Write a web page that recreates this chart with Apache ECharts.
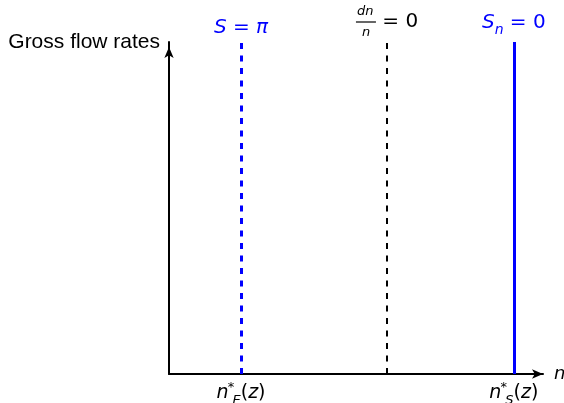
<!DOCTYPE html>
<html>
<head>
<meta charset="utf-8">
<script src="https://cdn.jsdelivr.net/npm/echarts@6/dist/echarts.min.js"></script>
<style>
  html, body { margin: 0; padding: 0; background: #fff; }
  #chart { width: 564px; height: 403px; }
</style>
</head>
<body>
<div id="chart"></div>
<script>
// Positions of the three vertical loci along the n axis (axis runs 0..100)
var lineNames = ['S = π', 'dn/n = 0', 'S_n = 0'];
var linePositions = [19.25, 58.3, 92.2];
var lineColors = ['#0000ff', '#000000', '#0000ff'];
var lineDashes = [[6, 6.5], [6, 6.5], 'solid'];
var lineWidths = [3, 2, 3];

// Tick labels under the n axis
var tickValues = [19.25, 92.2];
var tickSubscripts = ['E', 'S'];

var yAxisTitle = 'Gross flow rates';
var xAxisTitle = 'n';

var mathFont = 'DejaVu Sans';

// Rich-text renderings of the labels above each line
var topLabels = [
  '{it|S}{op| = }{it|π}',
  '{num|dn}\n{bar| }{eq| = 0}\n{den|n}',
  '{it|S}{sub|n}{op| = 0}'
];
var topLabelDistance = [4, 3, 9];

function richBase(color) {
  return {
    it: { fontFamily: mathFont, fontStyle: 'italic', fontSize: 20, color: color },
    op: { fontFamily: mathFont, fontSize: 20, color: color },
    sub: { fontFamily: mathFont, fontStyle: 'italic', fontSize: 14, color: color, verticalAlign: 'bottom', padding: [0, 0, -4, 0] },
    num: { fontFamily: mathFont, fontStyle: 'italic', fontSize: 13, color: color, align: 'left', padding: [0, 0, -2, 1], lineHeight: 12 },
    den: { fontFamily: mathFont, fontStyle: 'italic', fontSize: 13, color: color, align: 'left', padding: [0, 0, 0, 6], lineHeight: 12 },
    bar: { width: 20, height: 1.2, backgroundColor: color, align: 'left' },
    eq: { fontFamily: mathFont, fontSize: 20, color: color, align: 'left', lineHeight: 10 }
  };
}

var markData = linePositions.map(function (x, i) {
  return [
    {
      name: lineNames[i],
      coord: [x, 0],
      lineStyle: { color: lineColors[i], width: lineWidths[i], type: lineDashes[i] },
      label: {
        show: true,
        position: 'end',
        distance: topLabelDistance[i],
        formatter: topLabels[i],
        rich: richBase(lineColors[i])
      }
    },
    { coord: [x, 100] }
  ];
});

var chart = echarts.init(document.getElementById('chart'), null, { renderer: 'canvas' });

chart.setOption({
  animation: false,
  backgroundColor: '#ffffff',
  grid: { left: 169, right: 21, top: 42, bottom: 29, containLabel: false, outerBoundsMode: 'none' },
  xAxis: {
    type: 'value',
    min: 0,
    max: 100,
    name: xAxisTitle,
    nameLocation: 'end',
    nameGap: 11,
    nameTextStyle: { fontFamily: mathFont, fontStyle: 'italic', fontSize: 18, color: '#000', verticalAlign: 'middle', padding: [0, 0, 12, 0] },
    axisLine: {
      show: true,
      symbol: ['none', 'arrow'],
      symbolSize: [7, 11],
      lineStyle: { color: '#000', width: 2 }
    },
    axisTick: { show: false },
    splitLine: { show: false },
    axisLabel: {
      show: true,
      customValues: tickValues,
      margin: 10,
      formatter: function (v) {
        var idx = tickValues.indexOf(v);
        if (idx < 0) return '';
        return '{n|n}{sup|*}{sub|' + tickSubscripts[idx] + '}{u|(}{n|z}{u|)}';
      },
      rich: {
        n: { fontFamily: mathFont, fontStyle: 'italic', fontSize: 19, color: '#000' },
        u: { fontFamily: mathFont, fontSize: 19, color: '#000' },
        sup: { fontFamily: mathFont, fontSize: 13, color: '#000', verticalAlign: 'top', width: 1, padding: [-3, 0, 0, 2] },
        sub: { fontFamily: mathFont, fontStyle: 'italic', fontSize: 13, color: '#000', verticalAlign: 'bottom', padding: [0, 0, -4, 1] }
      }
    }
  },
  yAxis: {
    type: 'value',
    min: 0,
    max: 100,
    name: yAxisTitle,
    nameLocation: 'end',
    nameGap: 0,
    nameTextStyle: { fontFamily: 'Liberation Sans', fontSize: 21, color: '#000', align: 'right', verticalAlign: 'middle', padding: [0, 9, 0, 0] },
    axisLine: {
      show: true,
      symbol: ['none', 'arrow'],
      symbolSize: [7, 11],
      symbolOffset: [0, -5],
      lineStyle: { color: '#000', width: 2 }
    },
    axisTick: { show: false },
    axisLabel: { show: false },
    splitLine: { show: false }
  },
  series: [{
    type: 'line',
    data: [],
    silent: true,
    markLine: {
      silent: true,
      symbol: ['none', 'none'],
      animation: false,
      data: markData
    }
  }]
});
</script>
</body>
</html>
